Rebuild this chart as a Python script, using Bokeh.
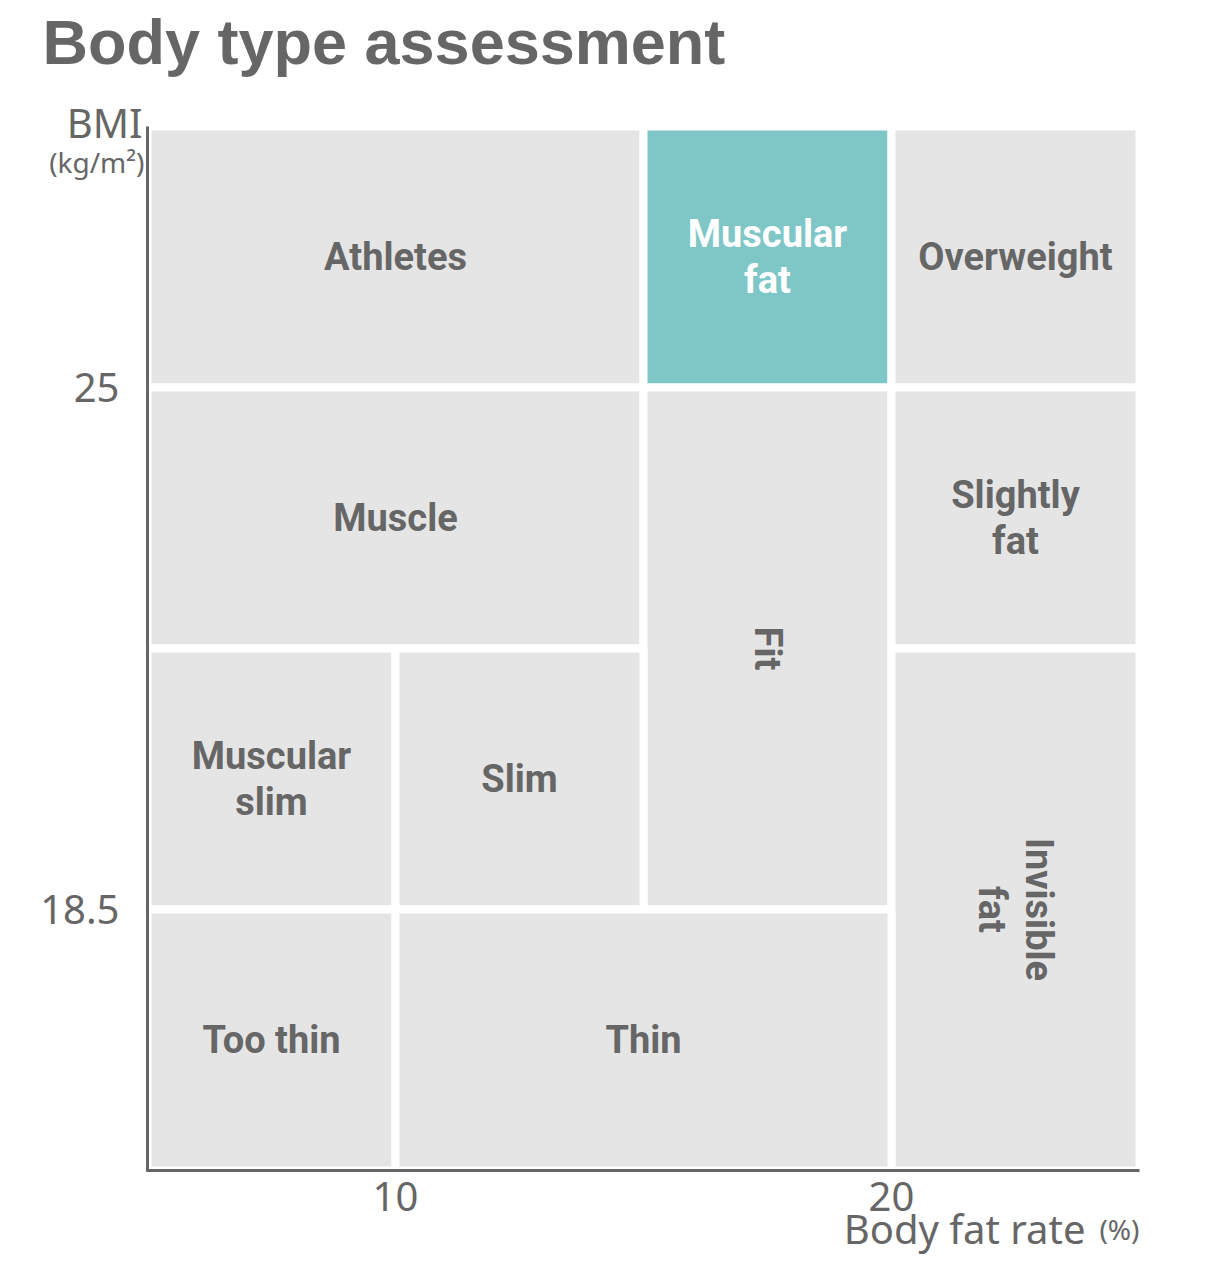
import math
from bokeh.plotting import figure
from bokeh.models import ColumnDataSource, Label, FixedTicker, Range1d
from bokeh.core.properties import value
from bokeh.embed import file_html
from bokeh.resources import INLINE

# ---- data ----
categories = ["Athletes", "Muscular\nfat", "Overweight",
              "Muscle", "Fit", "Slightly\nfat",
              "Muscular\nslim", "Slim", "Invisible\nfat",
              "Too thin", "Thin"]
fat_from = [5, 15, 20, 5, 15, 20, 5, 10, 20, 5, 10]
fat_to = [15, 20, 25, 15, 20, 25, 10, 15, 25, 10, 20]
row_from = [3, 3, 3, 2, 1, 2, 1, 1, 0, 0, 0]
row_to = [4, 4, 4, 3, 3, 3, 2, 2, 2, 1, 1]
vertical = [False, False, False, False, True, False, False, False, True, False, False]
highlight = [False, True, False, False, False, False, False, False, False, False, False]

x_ticks = [10, 20]
y_ticks = [1, 3]
y_tick_labels = ["18.5", "25"]
x_min, x_max = 5, 25
row_min, row_max = 0, 4

GRAY = "#e5e5e5"
TEAL = "#7fc7c7"
TXT = "#666666"

src = ColumnDataSource(dict(
    label=categories,
    x0=fat_from, x1=fat_to, y0=row_from, y1=row_to,
    tx=[(a + b) / 2 for a, b in zip(fat_from, fat_to)],
    ty=[(a + b) / 2 for a, b in zip(row_from, row_to)],
    angle=[-math.pi / 2 if v else 0 for v in vertical],
    fill=[TEAL if h else GRAY for h in highlight],
    tcolor=["white" if h else TXT for h in highlight],
))

W, H = 1190, 1256
# chart area in canvas pixels
L, R, T, B = 147, 1139, 126, 1170
xs = (R - L) / (x_max - x_min)
ys = (B - T) / (row_max - row_min)
x_range = Range1d(x_min - L / xs, x_max + (W - R) / xs)
y_range = Range1d(row_min - (H - B) / ys, row_max + T / ys)

p = figure(width=W, height=H, x_range=x_range, y_range=y_range,
           output_backend="svg", toolbar_location=None,
           min_border=0)
p.outline_line_color = None
p.grid.visible = False
p.background_fill_color = "white"
p.border_fill_color = "white"

p.quad(left="x0", right="x1", bottom="y0", top="y1", fill_color="fill",
       line_color="white", line_width=8, source=src)
p.text(x="tx", y="ty", text="label", angle="angle", text_color="tcolor",
       text_font=value("Roboto"), text_font_style="bold", text_font_size="38px",
       text_align="center", text_baseline="middle", text_line_height=1.05,
       source=src)

for ax in (p.xaxis[0], p.yaxis[0]):
    ax.axis_line_color = "#666666"
    ax.axis_line_width = 3
    ax.major_tick_line_color = None
    ax.minor_tick_line_color = None
    ax.major_label_text_font = "Noto Sans"
    ax.major_label_text_font_size = "40px"
    ax.major_label_text_color = TXT

xa, ya = p.xaxis[0], p.yaxis[0]
xa.ticker = FixedTicker(ticks=x_ticks)
xa.fixed_location = row_min
xa.bounds = (x_min - 0.03, x_max)
xa.major_label_standoff = 5
ya.ticker = FixedTicker(ticks=y_ticks)
ya.fixed_location = x_min
ya.bounds = (row_min - 0.005, row_max)
ya.major_label_overrides = {t: s for t, s in zip(y_ticks, y_tick_labels)}
ya.major_label_standoff = 22

# title and axis names
p.add_layout(Label(x=x_min, y=row_max, x_offset=-105, y_offset=85,
                   text="Body type assessment",
                   text_font="Liberation Sans", text_font_style="bold",
                   text_font_size="63px", text_color=TXT,
                   text_align="left", text_baseline="alphabetic"))
p.add_layout(Label(x=x_min, y=row_max, x_offset=-5, y_offset=4, text="BMI",
                   text_font="Noto Sans", text_font_size="40px", text_color=TXT,
                   text_align="right", text_baseline="alphabetic"))
p.add_layout(Label(x=x_min, y=row_max, x_offset=-3, y_offset=-35, text="(kg/m²)",
                   text_font="Noto Sans", text_font_size="28px", text_color=TXT,
                   text_align="right", text_baseline="alphabetic"))
p.add_layout(Label(x=x_max, y=row_min, x_offset=0, y_offset=-58, text="(%)",
                   text_font="Noto Sans", text_font_size="28px", text_color=TXT,
                   text_align="right", text_baseline="alphabetic"))
p.add_layout(Label(x=x_max, y=row_min, x_offset=-54, y_offset=-58,
                   text="Body fat rate",
                   text_font="Noto Sans", text_font_size="40px", text_color=TXT,
                   text_align="right", text_baseline="alphabetic"))

open("out.html", "w").write(file_html(p, INLINE))
